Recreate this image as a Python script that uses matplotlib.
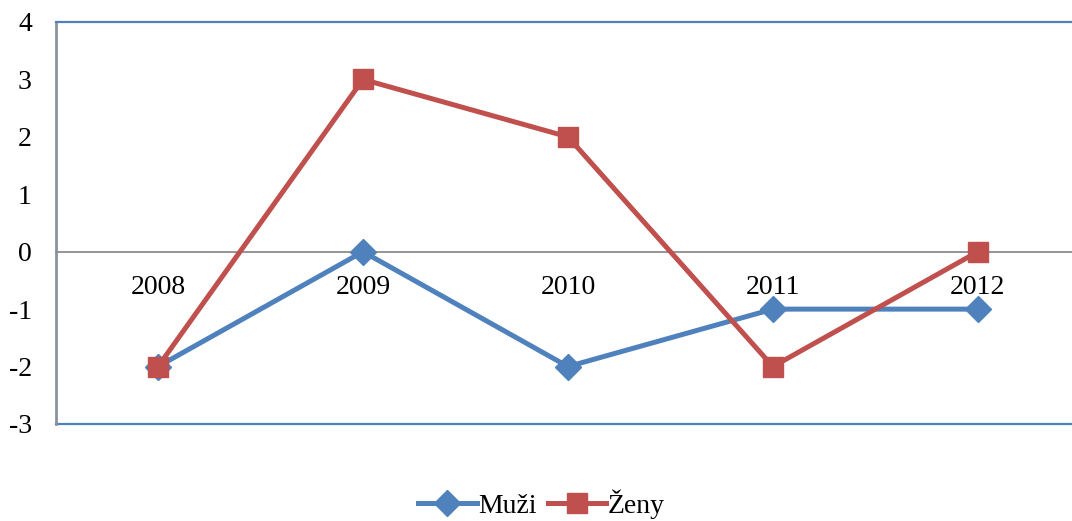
import numpy as np
import matplotlib.pyplot as plt

plt.rcParams['font.family'] = ['Liberation Serif', 'DejaVu Serif']
plt.rcParams['axes.unicode_minus'] = False

years = ['2008', '2009', '2010', '2011', '2012']
muzi = [-2, 0, -2, -1, -1]
zeny = [-2, 3, 2, -2, 0]

blue = '#4F81BD'
red = '#C0504D'

fig = plt.figure(figsize=(10.72, 5.21), dpi=100)
# plot area runs past the right edge of the picture, as in the original
ax = fig.add_axes([0.0518, 0.1862, 0.956, 0.7716])
x = np.arange(len(years))

ax.plot(x, muzi, color=blue, lw=3.6, marker='D', ms=13, label='Muži', zorder=3)
ax.plot(x, zeny, color=red, lw=3.6, marker='s', ms=14, label='Ženy', zorder=4)

ax.set_xlim(-0.5, len(years) - 0.5)
ax.set_ylim(-3, 4)
ax.set_yticks(range(-3, 5))
ax.set_xticks(x)
ax.set_xticklabels(years)

# category axis sits on zero
ax.spines['bottom'].set_position(('data', 0))
ax.spines['bottom'].set_color('#8C8C8C')
ax.spines['bottom'].set_linewidth(1.3)
ax.spines['left'].set_color('#8A93A0')
ax.spines['left'].set_linewidth(2)
ax.spines['top'].set_color(blue)
ax.spines['top'].set_linewidth(1.6)
ax.spines['right'].set_visible(False)
ax.axhline(-3, color=blue, lw=1.6, clip_on=False, zorder=1)

ax.tick_params(axis='x', length=0, pad=17, labelsize=20)
ax.tick_params(axis='y', length=0, pad=17, labelsize=20)

fig.legend(loc='center', bbox_to_anchor=(0.505, 0.032), ncol=2, frameon=False,
           fontsize=20, handlelength=2.1, handletextpad=0.05, columnspacing=0.4,
           borderaxespad=0, borderpad=0)

fig.savefig('out.png', dpi=100)
